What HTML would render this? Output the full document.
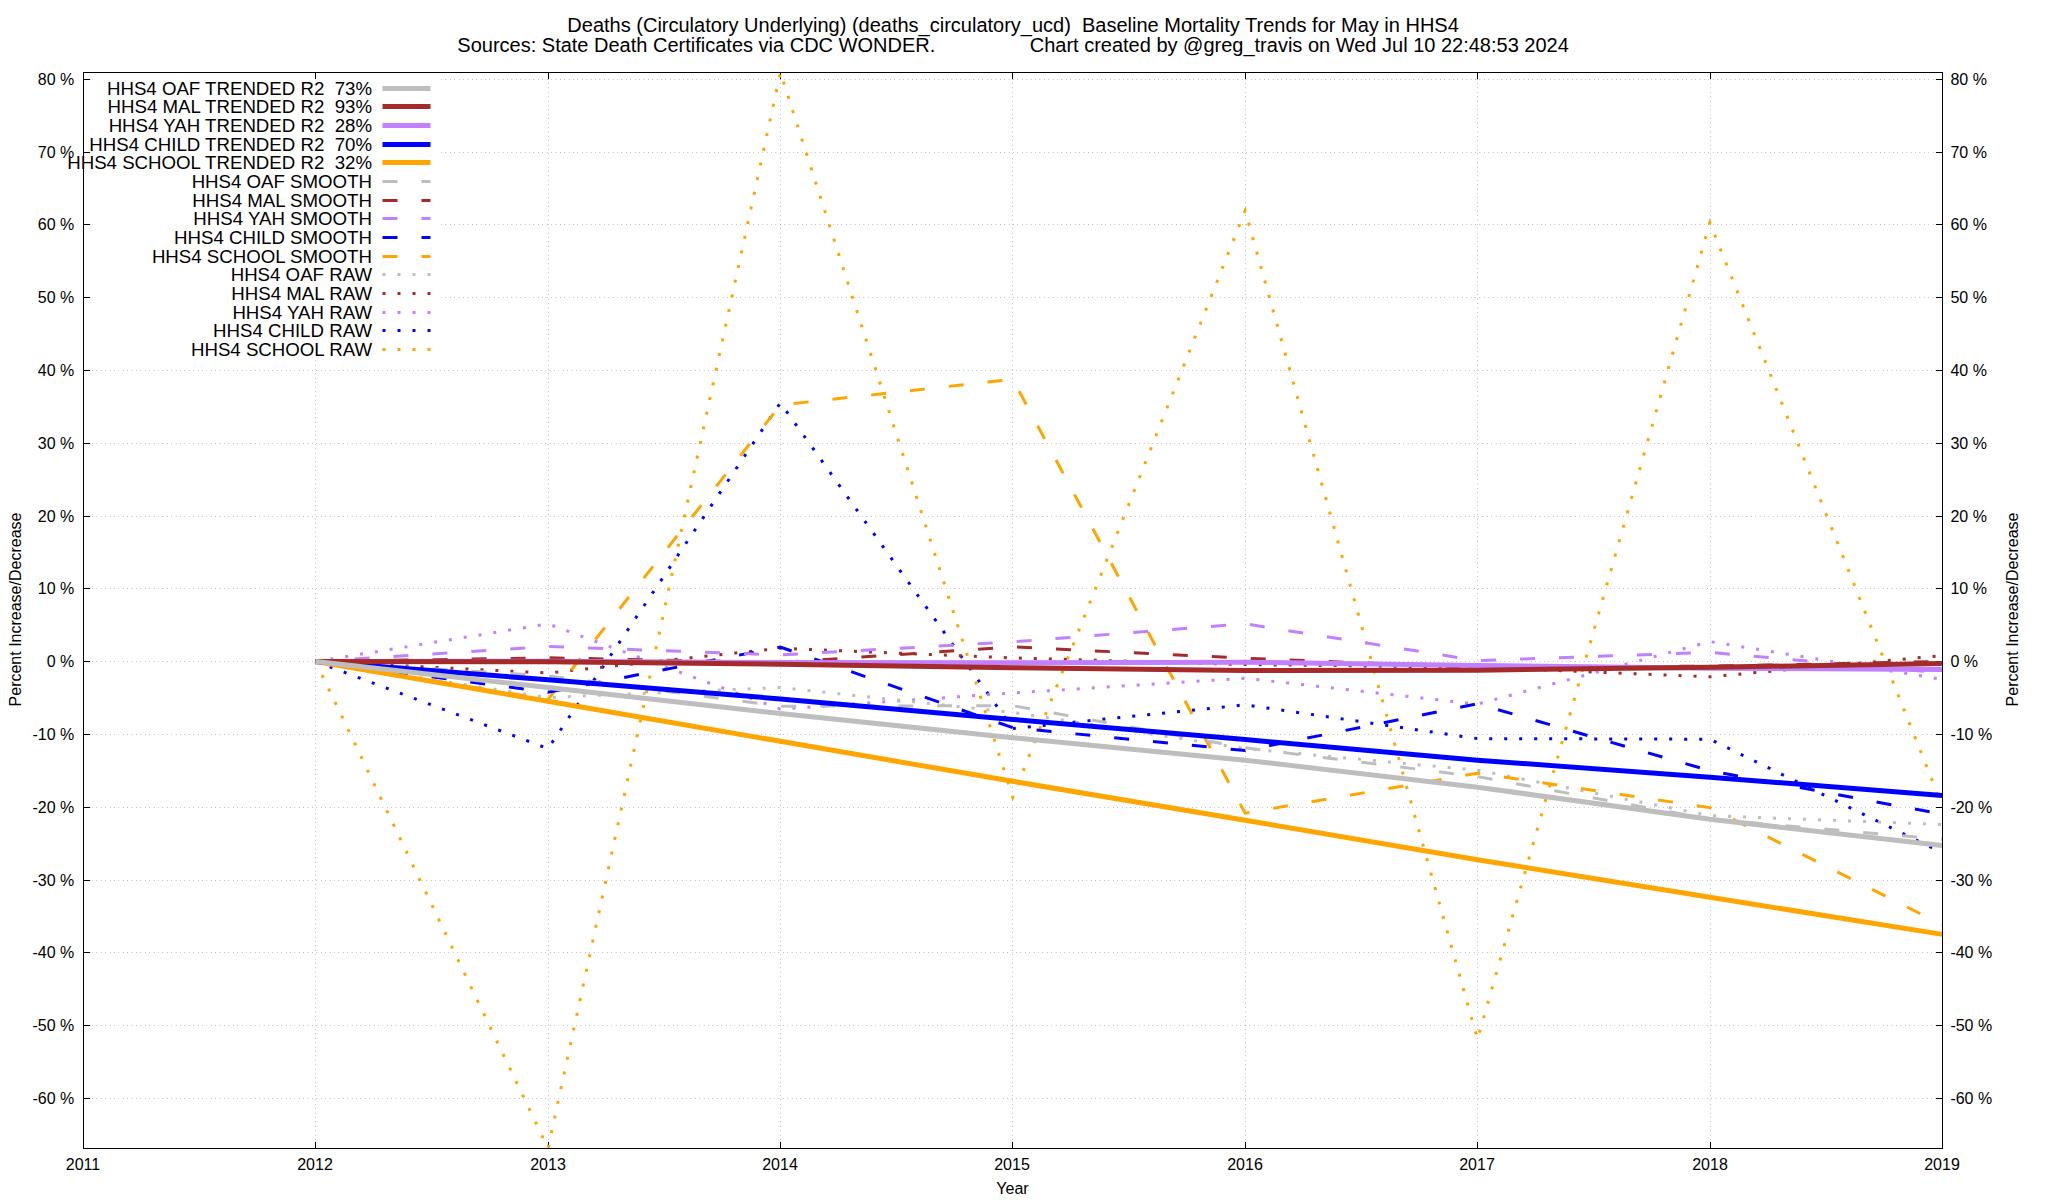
<!DOCTYPE html>
<html lang="en"><head><meta charset="utf-8"><title>Baseline Mortality Trends for May in HHS4</title>
<style>html,body{margin:0;padding:0;background:#fff}body{width:2048px;height:1200px;overflow:hidden}svg{display:block}text{font-family:"Liberation Sans",Arial,Helvetica,sans-serif;fill:#000;white-space:pre}.t16{font-size:16px}.t18{font-size:18.67px}.t20{font-size:20px}</style></head><body>
<svg width="2048" height="1200" viewBox="0 0 2048 1200">
<rect width="2048" height="1200" fill="#fff"/>
<g stroke="#666" stroke-width="1" stroke-dasharray="0.4 4" fill="none">
<path d="M83.5 79.5H92.45"/>
<path d="M441.3 79.5H1942.5"/>
<path d="M83.5 152.5H92.45"/>
<path d="M441.3 152.5H1942.5"/>
<path d="M83.5 224.5H92.45"/>
<path d="M441.3 224.5H1942.5"/>
<path d="M83.5 297.5H92.45"/>
<path d="M441.3 297.5H1942.5"/>
<path d="M83.5 370.5H1942.5"/>
<path d="M83.5 443.5H1942.5"/>
<path d="M83.5 516.5H1942.5"/>
<path d="M83.5 588.5H1942.5"/>
<path d="M83.5 661.5H1942.5"/>
<path d="M83.5 734.5H1942.5"/>
<path d="M83.5 807.5H1942.5"/>
<path d="M83.5 880.5H1942.5"/>
<path d="M83.5 952.5H1942.5"/>
<path d="M83.5 1025.5H1942.5"/>
<path d="M83.5 1098.5H1942.5"/>
<path d="M315.5 1148.5V359.0"/>
<path d="M548.5 1148.5V72.5"/>
<path d="M780.5 1148.5V72.5"/>
<path d="M1012.5 1148.5V72.5"/>
<path d="M1245.5 1148.5V72.5"/>
<path d="M1477.5 1148.5V72.5"/>
<path d="M1710.5 1148.5V72.5"/>
</g>
<g stroke="#000" stroke-width="1" fill="none">
<path d="M83.5 79.5h6.6M1942.5 79.5h-6.6"/>
<path d="M83.5 152.5h6.6M1942.5 152.5h-6.6"/>
<path d="M83.5 224.5h6.6M1942.5 224.5h-6.6"/>
<path d="M83.5 297.5h6.6M1942.5 297.5h-6.6"/>
<path d="M83.5 370.5h6.6M1942.5 370.5h-6.6"/>
<path d="M83.5 443.5h6.6M1942.5 443.5h-6.6"/>
<path d="M83.5 516.5h6.6M1942.5 516.5h-6.6"/>
<path d="M83.5 588.5h6.6M1942.5 588.5h-6.6"/>
<path d="M83.5 661.5h6.6M1942.5 661.5h-6.6"/>
<path d="M83.5 734.5h6.6M1942.5 734.5h-6.6"/>
<path d="M83.5 807.5h6.6M1942.5 807.5h-6.6"/>
<path d="M83.5 880.5h6.6M1942.5 880.5h-6.6"/>
<path d="M83.5 952.5h6.6M1942.5 952.5h-6.6"/>
<path d="M83.5 1025.5h6.6M1942.5 1025.5h-6.6"/>
<path d="M83.5 1098.5h6.6M1942.5 1098.5h-6.6"/>
<path d="M315.5 1148.5v-6.6M315.5 72.5v6.6"/>
<path d="M548.5 1148.5v-6.6M548.5 72.5v6.6"/>
<path d="M780.5 1148.5v-6.6M780.5 72.5v6.6"/>
<path d="M1012.5 1148.5v-6.6M1012.5 72.5v6.6"/>
<path d="M1245.5 1148.5v-6.6M1245.5 72.5v6.6"/>
<path d="M1477.5 1148.5v-6.6M1477.5 72.5v6.6"/>
<path d="M1710.5 1148.5v-6.6M1710.5 72.5v6.6"/>
</g>
<g class="t16">
<text x="74.3" y="85.2" text-anchor="end" xml:space="preserve">80 %</text>
<text x="1950.4" y="85.2" xml:space="preserve">80 %</text>
<text x="74.3" y="158.2" text-anchor="end" xml:space="preserve">70 %</text>
<text x="1950.4" y="158.2" xml:space="preserve">70 %</text>
<text x="74.3" y="230.2" text-anchor="end" xml:space="preserve">60 %</text>
<text x="1950.4" y="230.2" xml:space="preserve">60 %</text>
<text x="74.3" y="303.2" text-anchor="end" xml:space="preserve">50 %</text>
<text x="1950.4" y="303.2" xml:space="preserve">50 %</text>
<text x="74.3" y="376.2" text-anchor="end" xml:space="preserve">40 %</text>
<text x="1950.4" y="376.2" xml:space="preserve">40 %</text>
<text x="74.3" y="449.2" text-anchor="end" xml:space="preserve">30 %</text>
<text x="1950.4" y="449.2" xml:space="preserve">30 %</text>
<text x="74.3" y="522.2" text-anchor="end" xml:space="preserve">20 %</text>
<text x="1950.4" y="522.2" xml:space="preserve">20 %</text>
<text x="74.3" y="594.2" text-anchor="end" xml:space="preserve">10 %</text>
<text x="1950.4" y="594.2" xml:space="preserve">10 %</text>
<text x="74.3" y="667.2" text-anchor="end" xml:space="preserve">0 %</text>
<text x="1950.4" y="667.2" xml:space="preserve">0 %</text>
<text x="74.3" y="740.2" text-anchor="end" xml:space="preserve">-10 %</text>
<text x="1950.4" y="740.2" xml:space="preserve">-10 %</text>
<text x="74.3" y="813.2" text-anchor="end" xml:space="preserve">-20 %</text>
<text x="1950.4" y="813.2" xml:space="preserve">-20 %</text>
<text x="74.3" y="886.2" text-anchor="end" xml:space="preserve">-30 %</text>
<text x="1950.4" y="886.2" xml:space="preserve">-30 %</text>
<text x="74.3" y="958.2" text-anchor="end" xml:space="preserve">-40 %</text>
<text x="1950.4" y="958.2" xml:space="preserve">-40 %</text>
<text x="74.3" y="1031.2" text-anchor="end" xml:space="preserve">-50 %</text>
<text x="1950.4" y="1031.2" xml:space="preserve">-50 %</text>
<text x="74.3" y="1104.2" text-anchor="end" xml:space="preserve">-60 %</text>
<text x="1950.4" y="1104.2" xml:space="preserve">-60 %</text>
<text x="83.0" y="1170" text-anchor="middle">2011</text>
<text x="315.0" y="1170" text-anchor="middle">2012</text>
<text x="548.0" y="1170" text-anchor="middle">2013</text>
<text x="780.0" y="1170" text-anchor="middle">2014</text>
<text x="1012.0" y="1170" text-anchor="middle">2015</text>
<text x="1245.0" y="1170" text-anchor="middle">2016</text>
<text x="1477.0" y="1170" text-anchor="middle">2017</text>
<text x="1710.0" y="1170" text-anchor="middle">2018</text>
<text x="1942.0" y="1170" text-anchor="middle">2019</text>
<text x="1012.5" y="1193.7" text-anchor="middle">Year</text>
<text transform="translate(21.2 609.5) rotate(-90)" text-anchor="middle">Percent Increase/Decrease</text>
<text transform="translate(2018.1 609.5) rotate(-90)" text-anchor="middle">Percent Increase/Decrease</text>
</g>
<g class="t20" text-anchor="middle">
<text x="1013.1" y="31.8" xml:space="preserve">Deaths (Circulatory Underlying) (deaths_circulatory_ucd)  Baseline Mortality Trends for May in HHS4</text>
<text x="1013.1" y="51.7" xml:space="preserve">Sources: State Death Certificates via CDC WONDER.                 Chart created by @greg_travis on Wed Jul 10 22:48:53 2024</text>
</g>
<defs><clipPath id="pc"><rect x="83" y="72" width="1860" height="1077"/></clipPath></defs>
<g clip-path="url(#pc)" fill="none" stroke-linejoin="miter" stroke-miterlimit="10">
<polyline points="315.62,661.5 548.00,1148.3 780.38,72.3 1012.75,797.3 1245.12,210.7 1477.50,1039.3 1709.88,222.7 1942.25,805.6" stroke="#ffa500" stroke-width="3" stroke-dasharray="3 12"/>
<polyline points="315.62,661.5 548.00,748.6 780.38,402.8 1012.75,728.5 1245.12,704.8 1477.50,738.6 1709.88,739.2 1942.25,852.8" stroke="#0000ff" stroke-width="3" stroke-dasharray="3 12"/>
<polyline points="315.62,661.5 548.00,623.9 780.38,709.1 1012.75,693.0 1245.12,678.2 1477.50,704.2 1709.88,641.6 1942.25,679.3" stroke="#c080ff" stroke-width="3" stroke-dasharray="3 12"/>
<polyline points="315.62,661.5 548.00,673.0 780.38,648.2 1012.75,657.9 1245.12,664.6 1477.50,667.2 1709.88,676.8 1942.25,655.6" stroke="#a52a2a" stroke-width="3" stroke-dasharray="3 12"/>
<polyline points="315.62,661.5 548.00,697.5 780.38,687.5 1012.75,712.4 1245.12,748.6 1477.50,770.2 1709.88,815.6 1942.25,824.5" stroke="#bebebe" stroke-width="3" stroke-dasharray="3 12"/>
<polyline points="315.62,661.5 548.00,699.5 780.38,405.0 1012.75,379.3 1245.12,813.2 1477.50,773.2 1709.88,807.6 1942.25,924.8" stroke="#ffa500" stroke-width="3" stroke-dasharray="15 24"/>
<polyline points="315.62,661.5 548.00,692.2 780.38,647.1 1012.75,727.7 1245.12,750.6 1477.50,703.8 1709.88,770.7 1942.25,814.2" stroke="#0000ff" stroke-width="3" stroke-dasharray="15 24"/>
<polyline points="315.62,661.5 548.00,646.5 780.38,654.9 1012.75,641.9 1245.12,623.8 1477.50,660.6 1709.88,652.4 1942.25,672.9" stroke="#c080ff" stroke-width="3" stroke-dasharray="15 24"/>
<polyline points="315.62,661.5 548.00,657.8 780.38,662.5 1012.75,646.9 1245.12,658.2 1477.50,667.5 1709.88,666.2 1942.25,661.5" stroke="#a52a2a" stroke-width="3" stroke-dasharray="15 24"/>
<polyline points="315.62,661.5 548.00,675.9 780.38,706.2 1012.75,705.7 1245.12,747.8 1477.50,776.6 1709.88,819.2 1942.25,839.2" stroke="#bebebe" stroke-width="3" stroke-dasharray="15 24"/>
<polyline points="315.62,661.5 548.00,701.3 780.38,741.3 1012.75,781.3 1245.12,820.2 1477.50,859.7 1709.88,897.2 1942.25,934.4" stroke="#ffa500" stroke-width="5"/>
<polyline points="315.62,661.5 548.00,679.8 780.38,698.9 1012.75,719.4 1245.12,739.6 1477.50,760.2 1709.88,777.2 1942.25,795.5" stroke="#0000ff" stroke-width="5"/>
<polyline points="315.62,661.5 548.00,661.2 780.38,662.6 1012.75,662.7 1245.12,662.2 1477.50,665.4 1709.88,668.2 1942.25,669.6" stroke="#c080ff" stroke-width="5"/>
<polyline points="315.62,661.5 548.00,661.8 780.38,664.3 1012.75,667.7 1245.12,670.6 1477.50,670.2 1709.88,667.2 1942.25,663.6" stroke="#a52a2a" stroke-width="5"/>
<polyline points="315.62,661.5 548.00,687.5 780.38,713.5 1012.75,737.7 1245.12,760.2 1477.50,787.2 1709.88,819.2 1942.25,845.5" stroke="#bebebe" stroke-width="5"/>
</g>
<g class="t18" text-anchor="end">
<text x="372" y="94.75" xml:space="preserve">HHS4 OAF TRENDED R2  73%</text>
<text x="372" y="113.42" xml:space="preserve">HHS4 MAL TRENDED R2  93%</text>
<text x="372" y="132.09" xml:space="preserve">HHS4 YAH TRENDED R2  28%</text>
<text x="372" y="150.76" xml:space="preserve">HHS4 CHILD TRENDED R2  70%</text>
<text x="372" y="169.43" xml:space="preserve">HHS4 SCHOOL TRENDED R2  32%</text>
<text x="372" y="188.10" xml:space="preserve">HHS4 OAF SMOOTH</text>
<text x="372" y="206.77" xml:space="preserve">HHS4 MAL SMOOTH</text>
<text x="372" y="225.44" xml:space="preserve">HHS4 YAH SMOOTH</text>
<text x="372" y="244.11" xml:space="preserve">HHS4 CHILD SMOOTH</text>
<text x="372" y="262.78" xml:space="preserve">HHS4 SCHOOL SMOOTH</text>
<text x="372" y="281.45" xml:space="preserve">HHS4 OAF RAW</text>
<text x="372" y="300.12" xml:space="preserve">HHS4 MAL RAW</text>
<text x="372" y="318.79" xml:space="preserve">HHS4 YAH RAW</text>
<text x="372" y="337.46" xml:space="preserve">HHS4 CHILD RAW</text>
<text x="372" y="356.13" xml:space="preserve">HHS4 SCHOOL RAW</text>
</g>
<g fill="none">
<path d="M382.5 88.5H430.5" stroke="#bebebe" stroke-width="5"/>
<path d="M382.5 106.5H430.5" stroke="#a52a2a" stroke-width="5"/>
<path d="M382.5 125.5H430.5" stroke="#c080ff" stroke-width="5"/>
<path d="M382.5 144.5H430.5" stroke="#0000ff" stroke-width="5"/>
<path d="M382.5 162.5H430.5" stroke="#ffa500" stroke-width="5"/>
<path d="M382.5 181.5H430.5" stroke="#bebebe" stroke-width="3" stroke-dasharray="15 24"/>
<path d="M382.5 200.5H430.5" stroke="#a52a2a" stroke-width="3" stroke-dasharray="15 24"/>
<path d="M382.5 218.5H430.5" stroke="#c080ff" stroke-width="3" stroke-dasharray="15 24"/>
<path d="M382.5 237.5H430.5" stroke="#0000ff" stroke-width="3" stroke-dasharray="15 24"/>
<path d="M382.5 256.5H430.5" stroke="#ffa500" stroke-width="3" stroke-dasharray="15 24"/>
<path d="M382.5 274.5H430.5" stroke="#bebebe" stroke-width="3" stroke-dasharray="3 12"/>
<path d="M382.5 293.5H430.5" stroke="#a52a2a" stroke-width="3" stroke-dasharray="3 12"/>
<path d="M382.5 312.5H430.5" stroke="#c080ff" stroke-width="3" stroke-dasharray="3 12"/>
<path d="M382.5 330.5H430.5" stroke="#0000ff" stroke-width="3" stroke-dasharray="3 12"/>
<path d="M382.5 349.5H430.5" stroke="#ffa500" stroke-width="3" stroke-dasharray="3 12"/>
</g>
<rect x="83.5" y="72.5" width="1859.0" height="1076.0" fill="none" stroke="#000" stroke-width="1"/>
</svg></body></html>
